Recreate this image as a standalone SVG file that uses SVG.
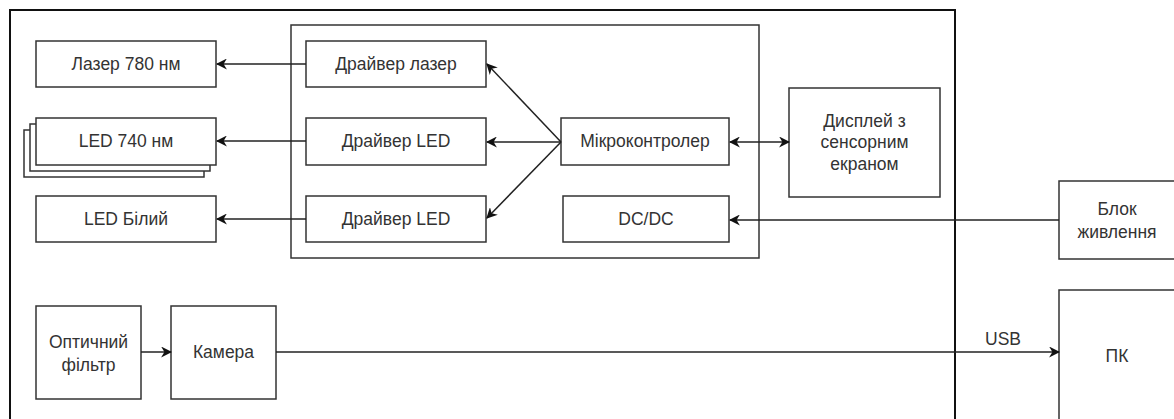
<svg xmlns="http://www.w3.org/2000/svg" width="1174" height="419" viewBox="0 0 1174 419">
<defs>
<style>
.b{fill:#fff;stroke:#333;stroke-width:1.5}
.t{font-family:"Liberation Sans",Arial,sans-serif;font-size:17.5px;fill:#333;text-anchor:middle;dominant-baseline:central}
.c{fill:none;stroke:#222;stroke-width:1.5}
</style>
<marker id="a" viewBox="0 0 10 10" refX="9" refY="5" markerWidth="11" markerHeight="11" markerUnits="userSpaceOnUse" orient="auto-start-reverse">
<path d="M0,0 L10,5 L0,10 L3,5 Z" fill="#111"/>
</marker>
</defs>
<rect width="1174" height="419" fill="#fff"/>
<g id="device"><path d="M10,425 V10 H955 V425" fill="none" stroke="#111" stroke-width="2"/></g>
<g id="board"><rect x="291" y="25" width="468" height="233" fill="none" stroke="#333" stroke-width="1.5"/></g>
<g id="laser"><rect class="b" x="36" y="41" width="180" height="46"/><text class="t" x="126" y="64">Лазер 780 нм</text></g>
<g id="led740"><rect class="b" x="24" y="130" width="180" height="47"/><rect class="b" x="30" y="124" width="180" height="47"/><rect class="b" x="36" y="118" width="180" height="47"/><text class="t" x="126" y="141">LED 740 нм</text></g>
<g id="ledwhite"><rect class="b" x="36" y="196" width="180" height="46"/><text class="t" x="126" y="219">LED Білий</text></g>
<g id="drv-laser"><rect class="b" x="306" y="41" width="180" height="46"/><text class="t" x="396" y="64">Драйвер лазер</text></g>
<g id="drv-led1"><rect class="b" x="306" y="118" width="180" height="47"/><text class="t" x="396" y="141">Драйвер LED</text></g>
<g id="drv-led2"><rect class="b" x="306" y="196" width="180" height="46"/><text class="t" x="396" y="219">Драйвер LED</text></g>
<g id="mcu"><rect class="b" x="561" y="118" width="168" height="47"/><text class="t" x="645" y="141">Мікроконтролер</text></g>
<g id="dcdc"><rect class="b" x="563" y="196" width="166" height="46"/><text class="t" x="646" y="219">DC/DC</text></g>
<g id="display"><rect class="b" x="789" y="88" width="151" height="109"/><text class="t"><tspan x="864.5" y="121">Дисплей з</tspan><tspan x="864.5" y="142">сенсорним</tspan><tspan x="864.5" y="164">екраном</tspan></text></g>
<g id="psu"><rect class="b" x="1059" y="181" width="120" height="78"/><text class="t"><tspan x="1117" y="209">Блок</tspan><tspan x="1117" y="232">живлення</tspan></text></g>
<g id="pc"><rect class="b" x="1059" y="290" width="120" height="140"/><text class="t" x="1117" y="356">ПК</text></g>
<g id="filter"><rect class="b" x="36" y="306" width="105" height="93"/><text class="t"><tspan x="88.5" y="342">Оптичний</tspan><tspan x="88.5" y="365">фільтр</tspan></text></g>
<g id="camera"><rect class="b" x="171" y="306" width="105" height="93"/><text class="t" x="223.5" y="352">Камера</text></g>
<g id="connectors">
<path class="c" d="M306,64 H217" marker-end="url(#a)"/>
<path class="c" d="M306,141 H217" marker-end="url(#a)"/>
<path class="c" d="M306,219 H217" marker-end="url(#a)"/>
<path class="c" d="M561,142 L487,64" marker-end="url(#a)"/>
<path class="c" d="M561,142 H487" marker-end="url(#a)"/>
<path class="c" d="M561,142 L487,218" marker-end="url(#a)"/>
<path class="c" d="M730,142 H789" marker-start="url(#a)" marker-end="url(#a)"/>
<path class="c" d="M1059,220 H730" marker-end="url(#a)"/>
<path class="c" d="M141,352 H171" marker-end="url(#a)"/>
<path class="c" d="M276,352 H1059" marker-end="url(#a)"/>
<text class="t" x="1003" y="339">USB</text>
</g>
</svg>
